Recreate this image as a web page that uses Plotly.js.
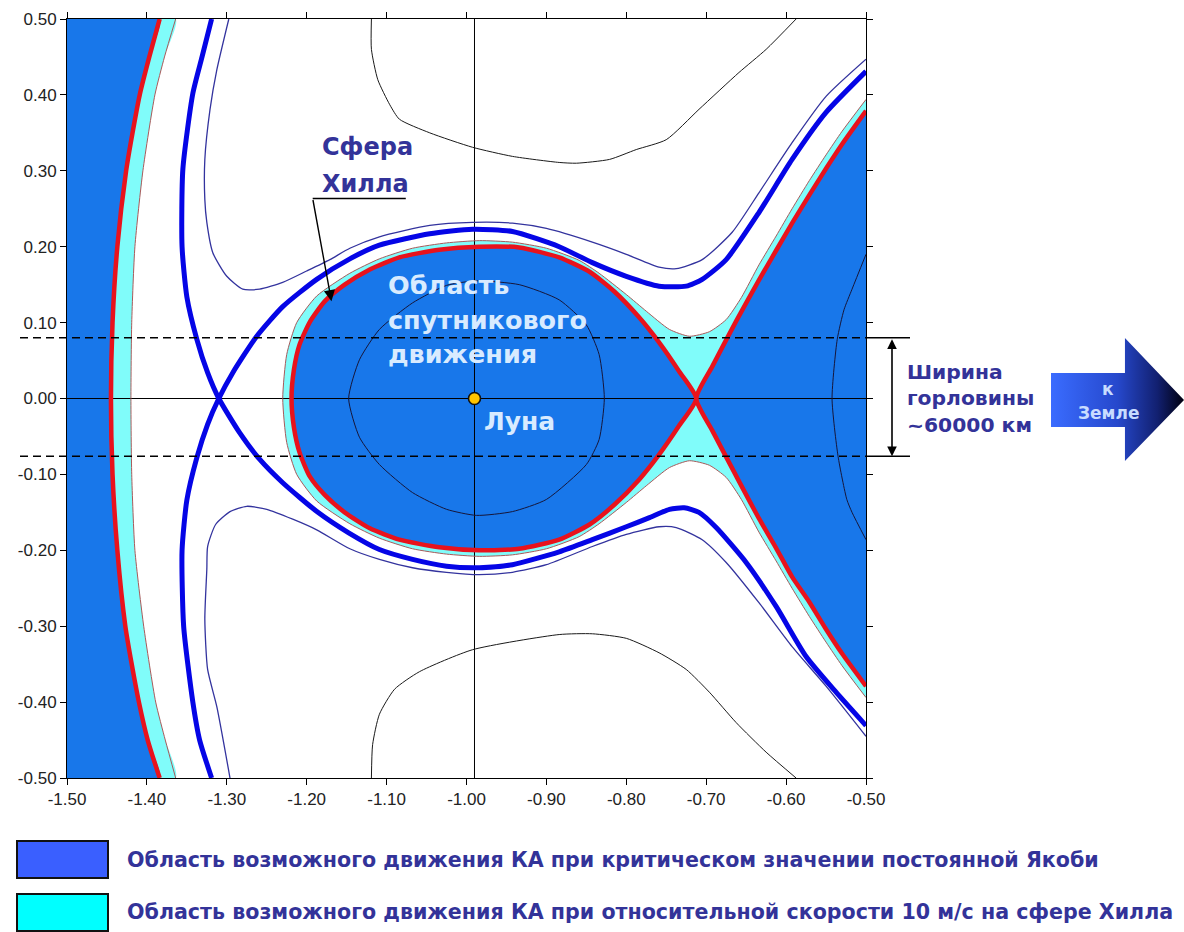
<!DOCTYPE html>
<html>
<head>
<meta charset="utf-8">
<script src="https://cdn.plot.ly/plotly-3.0.1.min.js"></script>
<style>
  html, body { margin: 0; padding: 0; background: #ffffff; }
  #chart { width: 1184px; height: 932px; }
</style>
</head>
<body>
<div id="chart"></div>
<script>
// Zero-velocity curves near the Moon (rotating frame, Earth–Moon distance = 1)

// Axis ranges and tick labels
const xRange = [-1.5, -0.5];
const yRange = [-0.5, 0.5];
const xTickVals = [-1.5, -1.4, -1.3, -1.2, -1.1, -1.0, -0.9, -0.8, -0.7, -0.6, -0.5];
const xTickText = ['-1.50', '-1.40', '-1.30', '-1.20', '-1.10', '-1.00', '-0.90', '-0.80', '-0.70', '-0.60', '-0.50'];
const yTickVals = [0.5, 0.4, 0.3, 0.2, 0.1, 0.0, -0.1, -0.2, -0.3, -0.4, -0.5];
const yTickText = ['0.50', '0.40', '0.30', '0.20', '0.10', '0.00', '-0.10', '-0.20', '-0.30', '-0.40', '-0.50'];

// Moon position
const moonX = [-0.99];
const moonY = [0.0];

// Throat edges (y) at the L1 neck
const throatY = [0.080, -0.076];

// Critical Jacobi constant: outer (far side) branch
const leftRedX = [-1.384, -1.397, -1.409, -1.418, -1.426, -1.437, -1.443, -1.445, -1.443, -1.437, -1.427, -1.419, -1.410, -1.399, -1.384];
const leftRedY = [0.50, 0.45, 0.40, 0.35, 0.30, 0.20, 0.10, 0.00, -0.10, -0.20, -0.30, -0.35, -0.40, -0.45, -0.50];

// 10 m/s at Hill sphere: outer branch
const leftCyanX = [-1.364, -1.378, -1.390, -1.405, -1.415, -1.419, -1.420, -1.419, -1.415, -1.404, -1.389, -1.377, -1.364];
const leftCyanY = [0.50, 0.45, 0.40, 0.30, 0.20, 0.10, 0.00, -0.10, -0.20, -0.30, -0.40, -0.45, -0.50];

// Critical Jacobi constant: lunar lobe (closed through L1)
const lobeX = [-0.7125, -0.734, -0.759, -0.784, -0.815, -0.846, -0.884, -0.934, -0.984, -1.034, -1.084, -1.121, -1.1525, -1.1775, -1.196, -1.209, -1.216, -1.219,
               -1.216, -1.209, -1.196, -1.1775, -1.1525, -1.121, -1.084, -1.034, -0.984, -0.934, -0.884, -0.846, -0.815, -0.784, -0.759, -0.734, -0.7125];
const lobeY = [0.000, 0.036, 0.074, 0.107, 0.141, 0.167, 0.186, 0.199, 0.200, 0.196, 0.186, 0.170, 0.150, 0.128, 0.101, 0.071, 0.038, 0.000,
               -0.038, -0.071, -0.103, -0.127, -0.150, -0.171, -0.186, -0.196, -0.200, -0.198, -0.186, -0.166, -0.140, -0.107, -0.074, -0.036, 0.000];

// Critical Jacobi constant: Earth-side branches through L1
const rightRedX = [-0.500, -0.530, -0.550, -0.571, -0.5925, -0.6125, -0.634, -0.6625, -0.6925, -0.7125, -0.6925, -0.6625, -0.634, -0.6125, -0.5925, -0.571, -0.550, -0.530, -0.500];
const rightRedY = [0.379, 0.335, 0.303, 0.268, 0.231, 0.195, 0.156, 0.102, 0.042, 0.000, -0.042, -0.102, -0.158, -0.197, -0.235, -0.268, -0.304, -0.336, -0.379];

// 10 m/s at Hill sphere: inner curve around the lobe and the neck
const cyanEdgeX = [-0.500, -0.530, -0.550, -0.571, -0.5925, -0.6125, -0.634, -0.656, -0.675, -0.696, -0.721, -0.746, -0.775, -0.800, -0.834, -0.859, -0.900, -0.9425, -0.984, -1.025, -1.0675, -1.109, -1.146, -1.1875, -1.2125, -1.225, -1.230,
                   -1.225, -1.2125, -1.1875, -1.146, -1.109, -1.0675, -1.025, -0.984, -0.9425, -0.900, -0.859, -0.834, -0.800, -0.775, -0.746, -0.721, -0.696, -0.675, -0.656, -0.634, -0.6125, -0.5925, -0.571, -0.550, -0.530, -0.500];
const cyanEdgeY = [0.394, 0.352, 0.321, 0.287, 0.250, 0.214, 0.176, 0.133, 0.104, 0.088, 0.082, 0.091, 0.115, 0.137, 0.165, 0.182, 0.198, 0.206, 0.208, 0.205, 0.198, 0.184, 0.165, 0.135, 0.100, 0.058, 0.000,
                   -0.058, -0.100, -0.135, -0.165, -0.184, -0.198, -0.205, -0.208, -0.206, -0.198, -0.182, -0.165, -0.137, -0.115, -0.091, -0.082, -0.088, -0.104, -0.133, -0.176, -0.214, -0.250, -0.287, -0.321, -0.352, -0.394];

// Hill sphere level (through L2): two branches crossing at the saddle
const hillLowerX = [-1.319, -1.331, -1.3425, -1.355, -1.356, -1.350, -1.3375, -1.324, -1.310, -1.284, -1.259, -1.230, -1.186, -1.1475, -1.109, -1.0675, -1.025, -0.984, -0.9425, -0.884, -0.8425, -0.800, -0.771, -0.746, -0.7275, -0.709, -0.6875, -0.650, -0.6125, -0.575, -0.5375, -0.500];
const hillLowerY = [0.500, 0.450, 0.402, 0.302, 0.200, 0.134, 0.078, 0.034, 0.000, -0.045, -0.080, -0.111, -0.150, -0.177, -0.199, -0.212, -0.221, -0.223, -0.219, -0.202, -0.186, -0.169, -0.157, -0.146, -0.144, -0.150, -0.170, -0.216, -0.274, -0.340, -0.387, -0.431];
const hillUpperX = [-1.319, -1.334, -1.3425, -1.354, -1.356, -1.350, -1.3375, -1.324, -1.310, -1.2925, -1.2625, -1.230, -1.1875, -1.146, -1.109, -1.046, -0.9925, -0.9425, -0.884, -0.8425, -0.800, -0.759, -0.725, -0.705, -0.675, -0.634, -0.5925, -0.550, -0.500];
const hillUpperY = [-0.500, -0.450, -0.400, -0.300, -0.200, -0.134, -0.078, -0.034, 0.000, 0.034, 0.082, 0.121, 0.157, 0.184, 0.202, 0.217, 0.223, 0.220, 0.200, 0.179, 0.161, 0.148, 0.148, 0.157, 0.183, 0.245, 0.315, 0.377, 0.431];

// Level just above the Hill sphere value
const outerUpperX = [-1.2975, -1.3125, -1.321, -1.3275, -1.3275, -1.325, -1.3175, -1.300, -1.280, -1.259, -1.230, -1.200, -1.171, -1.146, -1.109, -1.046, -0.9925, -0.9425, -0.900, -0.8425, -0.800, -0.759, -0.7375, -0.705, -0.6675, -0.634, -0.5925, -0.550, -0.500];
const outerUpperY = [0.500, 0.433, 0.381, 0.315, 0.262, 0.232, 0.192, 0.161, 0.144, 0.144, 0.153, 0.168, 0.183, 0.198, 0.213, 0.228, 0.232, 0.231, 0.224, 0.206, 0.190, 0.173, 0.171, 0.183, 0.219, 0.271, 0.337, 0.398, 0.447];
const outerLowerX = [-1.296, -1.3125, -1.324, -1.3275, -1.325, -1.324, -1.314, -1.296, -1.275, -1.250, -1.2175, -1.1875, -1.146, -1.109, -1.0675, -1.025, -0.984, -0.9425, -0.900, -0.8425, -0.800, -0.759, -0.7375, -0.705, -0.675, -0.634, -0.5925, -0.550, -0.500];
const outerLowerY = [-0.500, -0.406, -0.357, -0.291, -0.225, -0.195, -0.166, -0.149, -0.142, -0.146, -0.159, -0.173, -0.198, -0.212, -0.223, -0.229, -0.232, -0.229, -0.219, -0.195, -0.179, -0.169, -0.170, -0.186, -0.216, -0.269, -0.327, -0.379, -0.445];

// Other Jacobi levels (thin black)
const contourTopX = [-1.119, -1.119, -1.111, -1.096, -1.084, -1.046, -0.9925, -0.9425, -0.884, -0.8625, -0.821, -0.7875, -0.750, -0.709, -0.659, -0.625, -0.5875];
const contourTopY = [0.500, 0.460, 0.420, 0.387, 0.368, 0.350, 0.331, 0.319, 0.311, 0.310, 0.315, 0.328, 0.341, 0.381, 0.4295, 0.460, 0.500];
const contourBottomX = [-1.119, -1.1175, -1.109, -1.090, -1.059, -0.9925, -0.884, -0.8425, -0.800, -0.759, -0.725, -0.696, -0.6625, -0.625, -0.5875];
const contourBottomY = [-0.500, -0.456, -0.416, -0.383, -0.360, -0.331, -0.311, -0.310, -0.316, -0.335, -0.357, -0.387, -0.427, -0.466, -0.500];
const contourMoonX = [-0.9875, -0.934, -0.884, -0.850, -0.834, -0.8275, -0.834, -0.850, -0.900, -0.9425, -0.9875, -1.025, -1.0675, -1.109, -1.134, -1.1475, -1.134, -1.109, -1.0675, -1.025, -0.9875];
const contourMoonY = [0.155, 0.150, 0.130, 0.097, 0.058, 0.000, -0.054, -0.087, -0.133, -0.149, -0.154, -0.146, -0.124, -0.087, -0.051, 0.000, 0.051, 0.091, 0.126, 0.149, 0.155];
const contourRightX = [-0.500, -0.5175, -0.5275, -0.536, -0.5425, -0.535, -0.524, -0.5175, -0.500];
const contourRightY = [0.190, 0.144, 0.117, 0.078, 0.000, -0.076, -0.133, -0.150, -0.186];

// "to Earth" arrow outline in its own unit box
const earthArrowX = [0, 0.556, 0.556, 1, 0.556, 0.556, 0, 0];
const earthArrowY = [0.276, 0.276, 0, 0.496, 1, 0.715, 0.715, 0.276];

// Legend entries
const legendLabels = [
  'Область возможного движения КА при критическом значении постоянной Якоби',
  'Область возможного движения КА при относительной скорости 10 м/с на сфере Хилла'
];

// ---- styles ----
const BLUE_FILL = '#1877EA';
const CYAN_FILL = '#80FCFA';
const RED = '#E8121C';
const HILL_BLUE = '#0505E6';
const THIN_NAVY = '#33339E';
const EDGE_BROWN = '#A85A5A';
const LABEL_NAVY = '#333399';
const LIGHT_TEXT = '#D8EBFF';
const FONT = 'Liberation Sans, Arial, sans-serif';
const LABEL_FONT = 'DejaVu Sans, Verdana, sans-serif';

const W = 1184, H = 932;
const M = { l: 67, r: 0, t: 19, b: 154 };
const plotW = 799;                      // width of the main axes box
const paperW = W - M.l - M.r;
const paperH = H - M.t - M.b;
const px2paperX = p => (p - M.l) / paperW;
const py2paperY = p => (H - M.b - p) / paperH;

function line(x, y, color, width, extra) {
  return Object.assign({
    type: 'scatter', mode: 'lines', x: x, y: y,
    line: { color: color, width: width, shape: 'spline', smoothing: 0.6 },
    hoverinfo: 'skip'
  }, extra || {});
}
function area(x, y, color) {
  return {
    type: 'scatter', mode: 'lines', x: x, y: y, fill: 'toself', fillcolor: color,
    line: { width: 0, shape: 'spline', smoothing: 0.6 }, hoverinfo: 'skip'
  };
}

const traces = [
  // fills: 10 m/s region first, critical region on top
  area([xRange[0]].concat(leftCyanX, [xRange[0]]), [yRange[1]].concat(leftCyanY, [yRange[0]]), CYAN_FILL),
  area([xRange[0]].concat(leftRedX, [xRange[0]]), [yRange[1]].concat(leftRedY, [yRange[0]]), BLUE_FILL),
  area(cyanEdgeX, cyanEdgeY, CYAN_FILL),
  area(lobeX, lobeY, BLUE_FILL),
  area(rightRedX, rightRedY, BLUE_FILL),

  // reference cross through the Moon
  line(xRange, [moonY[0], moonY[0]], '#000000', 1, { line: { color: '#000000', width: 1 } }),
  line([moonX[0], moonX[0]], yRange, '#000000', 1, { line: { color: '#000000', width: 1 } }),

  // other Jacobi levels
  line(contourTopX, contourTopY, '#1a1a1a', 1),
  line(contourBottomX, contourBottomY, '#1a1a1a', 1),
  line(contourMoonX, contourMoonY, '#16163a', 1),
  line(contourRightX, contourRightY, '#16163a', 1),

  // 10 m/s boundaries
  line(leftCyanX, leftCyanY, EDGE_BROWN, 1),
  line(cyanEdgeX, cyanEdgeY, EDGE_BROWN, 1),

  // critical boundaries
  line(leftRedX, leftRedY, RED, 4.5),
  line(lobeX, lobeY, RED, 4.5),
  line(rightRedX, rightRedY, RED, 4.5),

  // near Hill-sphere levels
  line(outerUpperX, outerUpperY, THIN_NAVY, 1.3),
  line(outerLowerX, outerLowerY, THIN_NAVY, 1.3),
  line(hillUpperX, hillUpperY, HILL_BLUE, 5),
  line(hillLowerX, hillLowerY, HILL_BLUE, 5),

  // Moon
  {
    type: 'scatter', mode: 'markers', x: moonX, y: moonY, hoverinfo: 'skip',
    marker: { size: 12, color: '#FFC400', line: { color: '#111111', width: 1.6 } }
  },

  // "to Earth" arrow
  {
    type: 'scatter', mode: 'lines', x: earthArrowX, y: earthArrowY, xaxis: 'x2', yaxis: 'y2',
    fill: 'toself', fillcolor: '#2a4fd8',
    fillgradient: { type: 'horizontal', colorscale: [[0, '#3A6CFF'], [0.5, '#2648CC'], [0.8, '#122070'], [1, '#00000F']] },
    line: { width: 0 }, hoverinfo: 'skip'
  }
];

const axisCommon = {
  showline: true, linecolor: '#000000', linewidth: 1, mirror: 'allticks',
  ticks: 'outside', ticklen: 6, tickwidth: 1, tickcolor: '#000000',
  tickfont: { family: FONT, size: 17, color: '#222222' },
  showgrid: false, zeroline: false, fixedrange: true, tickmode: 'array'
};

const plotRight = px2paperX(M.l + plotW);

const shapes = [
  // dashed neck limits
  { type: 'line', xref: 'paper', yref: 'y', x0: px2paperX(20), x1: plotRight, y0: throatY[0], y1: throatY[0], line: { color: '#000', width: 1.5, dash: '8px,5px' }, layer: 'above' },
  { type: 'line', xref: 'paper', yref: 'y', x0: px2paperX(20), x1: plotRight, y0: throatY[1], y1: throatY[1], line: { color: '#000', width: 1.5, dash: '8px,5px' }, layer: 'above' },
  { type: 'line', xref: 'paper', yref: 'y', x0: plotRight, x1: px2paperX(910), y0: throatY[0], y1: throatY[0], line: { color: '#000', width: 1.5 } },
  { type: 'line', xref: 'paper', yref: 'y', x0: plotRight, x1: px2paperX(910), y0: throatY[1], y1: throatY[1], line: { color: '#000', width: 1.5 } },
  // underline of the Hill sphere label
  { type: 'line', xref: 'x', yref: 'y', x0: -1.1925, x1: -1.076, y0: 0.2635, y1: 0.2635, line: { color: '#000', width: 1.5 }, layer: 'above' },
  // legend swatches
  { type: 'rect', xref: 'paper', yref: 'paper', x0: px2paperX(17), x1: px2paperX(108), y0: py2paperY(878), y1: py2paperY(841), fillcolor: '#3A5FFF', line: { color: '#111', width: 2 } },
  { type: 'rect', xref: 'paper', yref: 'paper', x0: px2paperX(17), x1: px2paperX(108), y0: py2paperY(931), y1: py2paperY(894), fillcolor: '#00FFFF', line: { color: '#111', width: 2 } }
];

const ann = (text, x, y, opts) => Object.assign({
  text: text, x: x, y: y, xref: 'x', yref: 'y', showarrow: false,
  xanchor: 'left', yanchor: 'middle', align: 'left',
  font: { family: LABEL_FONT, size: 24, color: LABEL_NAVY }
}, opts || {});

const lightFont = { family: LABEL_FONT, size: 25.5, color: LIGHT_TEXT };

const annotations = [
  ann('<b>Сфера</b>', -1.18375, 0.332),
  ann('<b>Хилла</b>', -1.18375, 0.283),
  // pointer from the label to the lobe boundary
  { x: -1.169, y: 0.128, ax: -1.1925, ay: 0.2635, xref: 'x', yref: 'y', axref: 'x', ayref: 'y', text: '', showarrow: true, arrowhead: 2, arrowsize: 1.6, arrowwidth: 1.4, arrowcolor: '#000' },

  ann('<b>Область</b>', -1.10125, 0.150, { font: lightFont }),
  ann('<b>спутникового</b>', -1.10125, 0.104, { font: lightFont }),
  ann('<b>движения</b>', -1.10125, 0.059, { font: lightFont }),
  ann('<b>Луна</b>', -0.98, -0.030, { font: { family: LABEL_FONT, size: 25, color: LIGHT_TEXT } }),

  // neck width
  { x: px2paperX(892), y: throatY[1], xref: 'paper', yref: 'y', ax: px2paperX(892), ay: throatY[0], axref: 'paper', ayref: 'y',
    text: '', showarrow: true, arrowhead: 2, startarrowhead: 2, arrowside: 'end+start', arrowsize: 1.2, startarrowsize: 1.2, arrowwidth: 1.6, arrowcolor: '#000' },
  ann('<b>Ширина<br>горловины<br>~60000 км</b>', px2paperX(905), 0.0, { xref: 'paper', font: { family: LABEL_FONT, size: 20.3, color: LABEL_NAVY } }),

  // arrow caption
  ann('<b>к</b>', px2paperX(1108), 0.012, { xref: 'paper', xanchor: 'center', align: 'center', font: { family: LABEL_FONT, size: 17, color: '#C8DCFF' } }),
  ann('<b>Земле</b>', px2paperX(1108), -0.019, { xref: 'paper', xanchor: 'center', align: 'center', font: { family: LABEL_FONT, size: 17, color: '#C8DCFF' } }),

  // legend captions
  ann('<b>' + legendLabels[0] + '</b>', px2paperX(125), py2paperY(860), { xref: 'paper', yref: 'paper', font: { family: LABEL_FONT, size: 20.6, color: LABEL_NAVY } }),
  ann('<b>' + legendLabels[1] + '</b>', px2paperX(125), py2paperY(912), { xref: 'paper', yref: 'paper', font: { family: LABEL_FONT, size: 20.6, color: LABEL_NAVY } })
];

const layout = {
  width: W, height: H, margin: M,
  paper_bgcolor: '#ffffff', plot_bgcolor: '#ffffff',
  showlegend: false,
  xaxis: Object.assign({}, axisCommon, { range: xRange, domain: [0, plotRight], tickvals: xTickVals, ticktext: xTickText, anchor: 'y' }),
  yaxis: Object.assign({}, axisCommon, { range: yRange, domain: [0, 1], tickvals: yTickVals, ticktext: yTickText, anchor: 'x' }),
  xaxis2: { domain: [px2paperX(1051), 1], range: [0, 1], visible: false, fixedrange: true, anchor: 'y2' },
  yaxis2: { domain: [py2paperY(461), py2paperY(338)], range: [0, 1], visible: false, fixedrange: true, anchor: 'x2' },
  shapes: shapes,
  annotations: annotations
};

Plotly.newPlot('chart', traces, layout, { staticPlot: true, displayModeBar: false });
</script>
</body>
</html>
